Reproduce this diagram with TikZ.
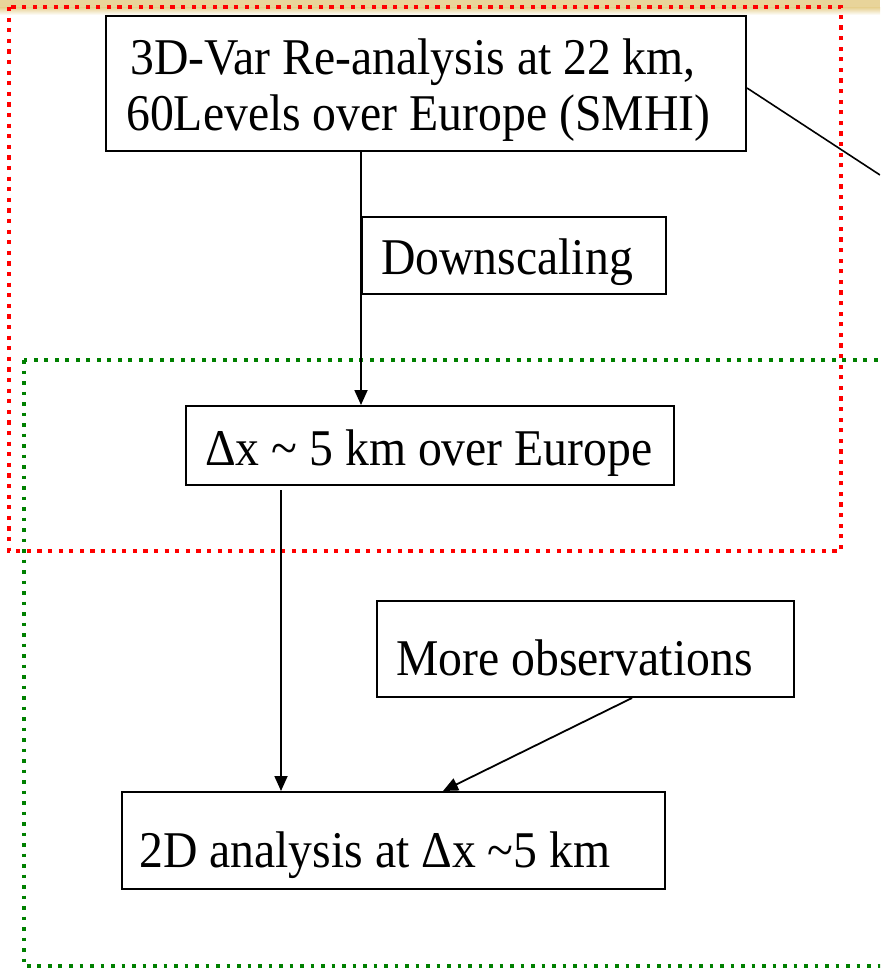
\documentclass[tikz,border=0pt]{standalone}
\usepackage{fontspec}
\usepackage{graphicx}
\setmainfont{Liberation Serif}
\usetikzlibrary{arrows.meta}
\definecolor{band}{HTML}{E8D49A}
\definecolor{dotred}{HTML}{FF0000}
\definecolor{dotgreen}{HTML}{008000}
\newcommand{\tallt}[1]{\scalebox{1}[1.08]{#1}}
\tikzset{
  box/.style={draw=black, line width=2pt, fill=white, inner sep=0pt, anchor=north west},
  txt/.style={inner sep=0pt, font=\fontsize{47.7}{55}\selectfont, anchor=base west},
  conn/.style={line width=1.8pt, -{Triangle[length=15pt,width=13pt]}},
  plain/.style={line width=1.6pt},
  reddots/.style={draw=dotred, line width=4.2pt, dash pattern=on 4.2pt off 6.4pt},
  greendots/.style={draw=dotgreen, line width=3.8pt, dash pattern=on 3.8pt off 6.7pt}
}
\begin{document}
\begin{tikzpicture}[x=1pt,y=-1pt]
\useasboundingbox (0,0) rectangle (880,968);
\clip (0,0) rectangle (880,968);
\fill[white] (0,0) rectangle (880,968);
% top band
\fill[band] (0,0) rectangle (880,8);
\shade[top color=band, bottom color=white] (0,8) rectangle (880,15);
% groups
\draw[greendots] (24,360) rectangle (900,966);
\draw[reddots] (9,7) rectangle (841,551);
% boxes
\node[box, minimum width=640pt, minimum height=135pt] (b1) at (105,15) {};
\node[box, minimum width=304pt, minimum height=77pt] (down) at (361,216) {};
\node[box, minimum width=488pt, minimum height=79pt] (b2) at (185,405) {};
\node[box, minimum width=417pt, minimum height=96pt] (obs) at (376,600) {};
\node[box, minimum width=543pt, minimum height=97pt] (b4) at (121,791) {};
% texts
\node[txt] (t1a) at (130,75) {\tallt{3D-Var Re-analysis at 22 km,}};
\node[txt] (t1b) at (126,131) {\tallt{60Levels over Europe (SMHI)}};
\node[txt] (td) at (381,274) {\tallt{Downscaling}};
\node[txt] (t2) at (205,465) {\tallt{Δx \textasciitilde{} 5 km over Europe}};
\node[txt] (to) at (396,675) {\tallt{More observations}};
\node[txt] (t4) at (139,867) {\tallt{2D analysis at Δx \textasciitilde5 km}};
% connectors
\coordinate (offR) at (880,175);
\draw[plain] (b1.east |- 0,88) -- (offR);
\draw[conn] (b1.south -| down.west) -- (b2.north -| down.west);
\draw[conn, shorten <=4pt] (b2.south -| 281,0) -- (b4.north -| 281,0);
\draw[conn] (obs.south -| 632,0) -- (b4.north -| 443,0);
\end{tikzpicture}
\end{document}
